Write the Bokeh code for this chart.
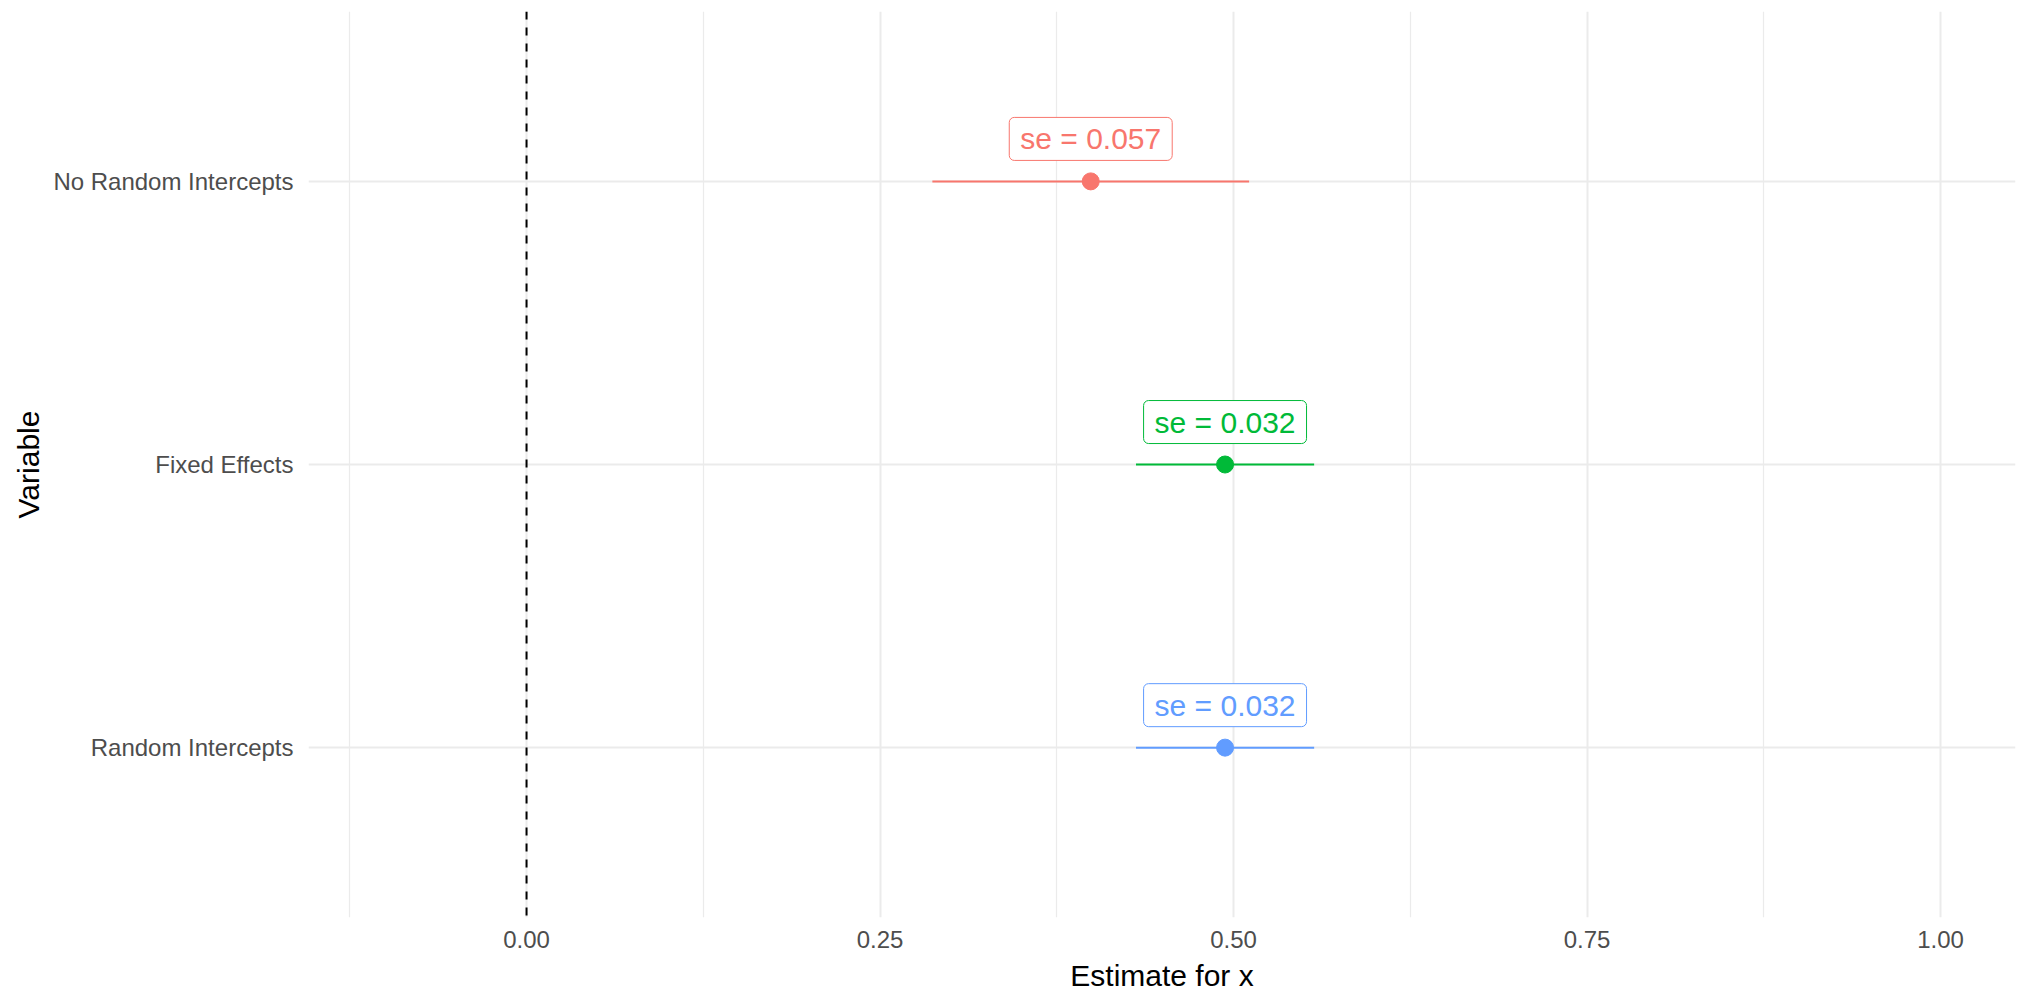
from bokeh.plotting import figure
from bokeh.models import Range1d, FixedTicker, Span, ColumnDataSource
from bokeh.core.properties import value
from bokeh.embed import file_html
from bokeh.resources import INLINE

# ---- data ----
models = ["No Random Intercepts", "Fixed Effects", "Random Intercepts"]
estimates = [0.399, 0.494, 0.494]
ci_low = [0.287, 0.431, 0.431]
ci_high = [0.511, 0.557, 0.557]
se_labels = ["se = 0.057", "se = 0.032", "se = 0.032"]
colors = ["#F8766D", "#00BA38", "#619CFF"]
x_ticks = [0.0, 0.25, 0.5, 0.75, 1.0]
x_tick_labels = ["0.00", "0.25", "0.50", "0.75", "1.00"]
x_minor = [-0.125, 0.125, 0.375, 0.625, 0.875]

FONT = "Liberation Sans"

# categorical positions: first model on top
n = len(models)
ypos = [n - i for i in range(n)]
label_nudge = 0.15

src = ColumnDataSource(dict(
    model=models, est=estimates, lo=ci_low, hi=ci_high,
    y=ypos, ylab=[y + label_nudge for y in ypos],
    lab=se_labels, color=colors,
))

p = figure(width=2023, height=994, output_backend="svg", toolbar_location=None,
           x_range=Range1d(-0.1542, 1.0530), y_range=Range1d(0.4, 3.6),
           min_border_left=308, min_border_right=8, min_border_top=11, min_border_bottom=76)
p.outline_line_color = None
p.background_fill_color = "white"
p.border_fill_color = "white"

# grid
p.xaxis.ticker = FixedTicker(ticks=x_ticks, minor_ticks=x_minor)
p.yaxis.ticker = FixedTicker(ticks=ypos)
p.xgrid.grid_line_color = "#EBEBEB"
p.xgrid.grid_line_width = 2
p.xgrid.minor_grid_line_color = "#EBEBEB"
p.xgrid.minor_grid_line_width = 1.2
p.ygrid.grid_line_color = "#EBEBEB"
p.ygrid.grid_line_width = 2

# axes
for ax in (p.xaxis, p.yaxis):
    ax.axis_line_color = None
    ax.major_tick_line_color = None
    ax.minor_tick_line_color = None
    ax.major_tick_out = 0
    ax.major_tick_in = 0
    ax.minor_tick_out = 0
    ax.minor_tick_in = 0
    ax.major_label_text_font = FONT
    ax.major_label_text_font_size = "24px"
    ax.major_label_text_color = "#4D4D4D"
    ax.axis_label_text_font = FONT
    ax.axis_label_text_font_size = "30px"
    ax.axis_label_text_color = "black"
    ax.axis_label_text_font_style = "normal"

p.xaxis.major_label_overrides = {t: l for t, l in zip(x_ticks, x_tick_labels)}
p.yaxis.major_label_overrides = {y: m for y, m in zip(ypos, models)}
p.xaxis.axis_label = "Estimate for x"
p.yaxis.axis_label = "Variable"
p.xaxis.major_label_standoff = 13
p.xaxis.axis_label_standoff = 8
p.yaxis.major_label_standoff = 15
p.yaxis.axis_label_standoff = 5

# zero reference line
p.add_layout(Span(location=0, dimension="height", line_color="black",
                  line_width=2, line_dash="8 8"))

# error bars and points
p.segment(x0="lo", x1="hi", y0="y", y1="y", line_color="color", line_width=2, source=src)
p.scatter(x="est", y="y", size=17, fill_color="color", line_color="color", source=src)

# labels
p.text(x="est", y="ylab", text="lab", text_color="color", source=src,
       text_font=value(FONT), text_font_size="30px",
       text_align="center", text_baseline="middle",
       background_fill_color="white", border_line_color="color", border_line_width=1,
       border_radius=5, padding=dict(left=11, right=11, top=5, bottom=5))

open("out.html", "w").write(file_html(p, INLINE))
